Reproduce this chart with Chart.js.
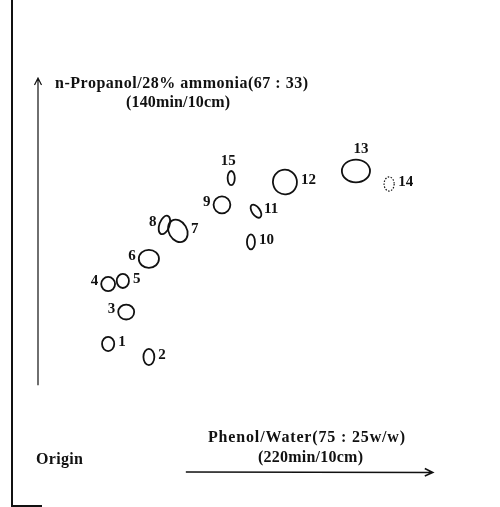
<!DOCTYPE html>
<html>
<head>
<meta charset="utf-8">
<script src="https://cdn.jsdelivr.net/npm/chart.js@4"></script>
<style>
  body { margin: 0; background: #fff; }
</style>
</head>
<body>
<canvas id="tlc" width="500" height="507"></canvas>
<script>
// spot numbers and positions on the plate (0-100 = origin to front)
var spotNo = ['1','2','3','4','5','6','7','8','9','10','11','12','13','14','15'];
var rfX = [16.7, 26.4, 21.0, 16.7, 20.2, 26.4, 33.3, 30.1, 43.8, 50.7, 51.9, 58.8, 75.7, 83.6, 46.0];
var rfY = [32.5, 29.2, 40.6, 47.7, 48.5, 54.1, 61.2, 62.7, 67.8, 58.4, 66.2, 73.6, 76.4, 73.1, 74.6];
// spot extent, same units
var spotW = [2.9, 2.6, 3.8, 3.3, 2.9, 4.8, 4.3, 2.4, 4.0, 1.9, 1.9, 5.7, 6.7, 2.4, 1.7];
var spotH = [3.6, 4.1, 3.8, 3.6, 3.6, 4.6, 6.0, 4.9, 4.3, 3.8, 3.8, 6.3, 5.8, 3.6, 3.6];
var spotTilt = [0, 0, 0, 0, 0, 0, -30, 20, 0, 0, -35, -10, 0, 0, 0];
var faint = [false,false,false,false,false,false,false,false,false,false,false,false,false,true,false];
var labelSide = ['r','r','l','l','r','l','r','l','l','r','r','r','t','r','t'];

var solvent1 = ['n-Propanol/28% ammonia(67 : 33)', '(140min/10cm)'];
var solvent2 = ['Phenol/Water(75 : 25w/w)', '(220min/10cm)'];

var pts = [];
for (var i = 0; i < spotNo.length; i++) {
  pts.push({x: rfX[i], y: rfY[i]});
}

function spacedText(ctx, txt, x0, x1, y) {
  ctx.letterSpacing = '0px';
  var w = ctx.measureText(txt).width;
  var sp = (x1 - x0 - w) / (txt.length - 1);
  ctx.letterSpacing = sp.toFixed(2) + 'px';
  ctx.textAlign = 'left';
  ctx.fillText(txt, x0, y);
  ctx.letterSpacing = '0px';
}

var platePlugin = {
  id: 'plate',
  afterDraw: function(chart) {
    var ctx = chart.ctx;
    var xs = chart.scales.x, ys = chart.scales.y;
    var meta = chart.getDatasetMeta(0);
    ctx.save();
    ctx.strokeStyle = '#111';
    ctx.fillStyle = '#111';

    // plate edge
    ctx.lineWidth = 2;
    ctx.beginPath();
    ctx.moveTo(12, 0);
    ctx.lineTo(12, 506);
    ctx.lineTo(42, 506);
    ctx.stroke();

    // direction arrows
    var ax = xs.getPixelForValue(0), ay0 = ys.getPixelForValue(22), ay1 = ys.getPixelForValue(100);
    ctx.lineWidth = 1.2;
    ctx.beginPath();
    ctx.moveTo(ax, ay0); ctx.lineTo(ax, ay1);
    ctx.moveTo(ax - 3.5, ay1 + 7); ctx.lineTo(ax, ay1); ctx.lineTo(ax + 3.5, ay1 + 7);
    ctx.stroke();
    var by = ys.getPixelForValue(0), bx0 = xs.getPixelForValue(35.2), bx1 = xs.getPixelForValue(94);
    ctx.lineWidth = 1.5;
    ctx.beginPath();
    ctx.moveTo(bx0, by); ctx.lineTo(bx1, by + 0.5);
    ctx.moveTo(bx1 - 8, by - 3.5); ctx.lineTo(bx1, by + 0.5); ctx.lineTo(bx1 - 8, by + 4);
    ctx.stroke();

    // solvent captions
    ctx.textBaseline = 'middle';
    ctx.font = 'bold 16px "Liberation Serif"';
    spacedText(ctx, solvent1[0], 55, 308, 84);
    spacedText(ctx, solvent1[1], 126, 230, 103);
    spacedText(ctx, solvent2[0], 208, 405, 438);
    spacedText(ctx, solvent2[1], 258, 363, 458);
    spacedText(ctx, 'Origin', 36, 83, 460);

    // spots
    ctx.font = 'bold 15px "Liberation Serif"';
    for (var i = 0; i < meta.data.length; i++) {
      var el = meta.data[i];
      var rx = (xs.getPixelForValue(rfX[i] + spotW[i] / 2) - xs.getPixelForValue(rfX[i]));
      var ry = (ys.getPixelForValue(rfY[i]) - ys.getPixelForValue(rfY[i] + spotH[i] / 2));
      ctx.lineWidth = faint[i] ? 1.2 : 1.8;
      ctx.setLineDash(faint[i] ? [1.5, 1.5] : []);
      ctx.beginPath();
      ctx.ellipse(el.x, el.y, rx, ry, spotTilt[i] * Math.PI / 180, 0, Math.PI * 2);
      ctx.stroke();
      ctx.setLineDash([]);
      if (labelSide[i] === 'r') {
        ctx.textAlign = 'left';
        ctx.fillText(spotNo[i], el.x + rx + 4, el.y - 2);
      } else if (labelSide[i] === 'l') {
        ctx.textAlign = 'right';
        ctx.fillText(spotNo[i], el.x - rx - 3, el.y - 3);
      } else {
        ctx.textAlign = 'center';
        ctx.fillText(spotNo[i], el.x + (i === 14 ? -3 : 5), el.y - ry - 10);
      }
    }
    ctx.restore();
  }
};

new Chart(document.getElementById('tlc'), {
  type: 'scatter',
  data: {
    datasets: [{
      data: pts,
      pointRadius: 0,
      pointHoverRadius: 0
    }]
  },
  options: {
    responsive: false,
    animation: false,
    layout: { padding: { left: 38, top: 78, right: 42, bottom: 35 } },
    plugins: { legend: { display: false }, tooltip: { enabled: false } },
    scales: {
      x: { display: false, min: 0, max: 100 },
      y: { display: false, min: 0, max: 100 }
    }
  },
  plugins: [platePlugin]
});
</script>
</body>
</html>
